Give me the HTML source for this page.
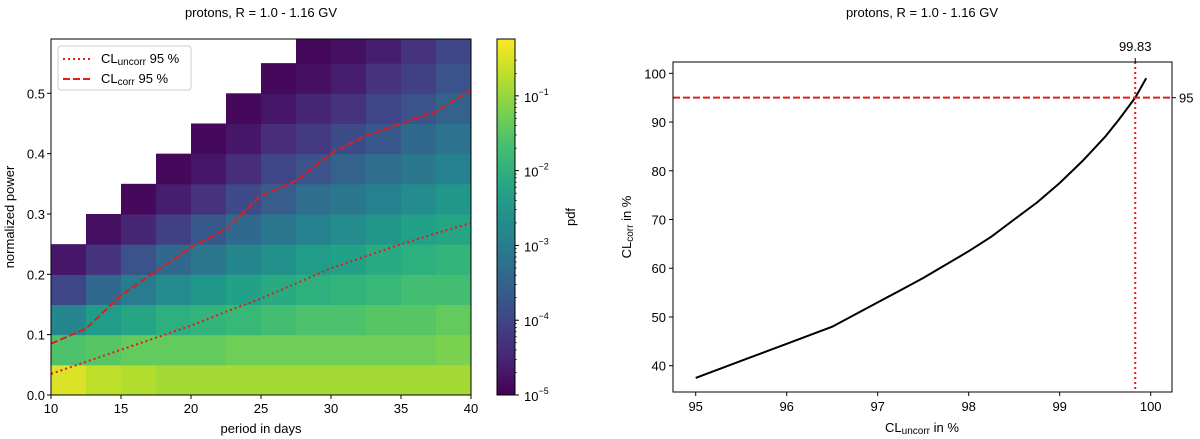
<!DOCTYPE html>
<html><head><meta charset="utf-8"><style>
body{margin:0;background:#fff;}
svg{display:block;font-family:"Liberation Sans","DejaVu Sans",sans-serif;}
</style></head><body>
<svg id="fig" width="1200" height="439" viewBox="0 0 1200 439" xmlns="http://www.w3.org/2000/svg">
<g id="left"></g>
<g id="right"></g>
</svg>
<script>
// ---- heatmap data (log10 pdf), columns every 2.5 days, rows every 0.05 power ----
const periodEdges = [10,12.5,15,17.5,20,22.5,25,27.5,30,32.5,35,37.5,40];
const powerEdges = [0,0.05,0.1,0.15,0.2,0.25,0.3,0.35,0.4,0.45,0.5,0.55,0.6];
const logPdf = [
 [-0.5,-1.6,-2.8,-4.0,-4.7,null,null,null,null,null,null,null],
 [-0.7,-1.5,-2.4,-3.4,-4.3,-4.8,null,null,null,null,null,null],
 [-0.8,-1.4,-2.2,-3.0,-3.8,-4.5,-4.9,null,null,null,null,null],
 [-0.9,-1.4,-2.0,-2.7,-3.4,-4.1,-4.6,-4.9,null,null,null,null],
 [-0.9,-1.4,-1.9,-2.5,-3.1,-3.7,-4.3,-4.7,-4.9,null,null,null],
 [-0.9,-1.3,-1.8,-2.3,-2.8,-3.4,-3.9,-4.4,-4.7,-4.9,null,null],
 [-0.9,-1.3,-1.7,-2.1,-2.6,-3.1,-3.6,-4.0,-4.4,-4.7,-4.9,null],
 [-0.9,-1.3,-1.6,-2.0,-2.4,-2.9,-3.3,-3.8,-4.2,-4.5,-4.8,-4.9],
 [-0.9,-1.3,-1.6,-1.9,-2.3,-2.7,-3.1,-3.5,-3.9,-4.3,-4.6,-4.8],
 [-0.9,-1.3,-1.5,-1.8,-2.1,-2.5,-2.9,-3.3,-3.7,-4.0,-4.3,-4.6],
 [-0.9,-1.3,-1.5,-1.7,-2.0,-2.3,-2.7,-3.1,-3.4,-3.8,-4.1,-4.3],
 [-0.9,-1.2,-1.4,-1.7,-1.9,-2.2,-2.5,-2.9,-3.2,-3.5,-3.8,-4.0]
];
const clPeriods = [10,12.5,15,17.5,20,22.5,25,27.5,30,32.5,35,37.5,40];
const clUncorr = [0.035,0.055,0.075,0.095,0.115,0.138,0.16,0.185,0.21,0.23,0.25,0.268,0.285];
const clCorr = [0.085,0.11,0.165,0.205,0.245,0.275,0.33,0.355,0.40,0.43,0.45,0.47,0.505];
const xTicksL = [10,15,20,25,30,35,40];
const yTicksL = [0.0,0.1,0.2,0.3,0.4,0.5];
const cbTicks = [-5,-4,-3,-2,-1];
// ---- right panel data ----
const clUnc = [95,95.5,96,96.5,97,97.25,97.5,98,98.25,98.5,98.75,99,99.25,99.5,99.65,99.83,99.95];
const clCor = [37.5,41,44.5,48,53,55.5,58,63.5,66.5,70,73.5,77.5,82,87,90.5,95,99];
const xTicksR = [95,96,97,98,99,100];
const yTicksR = [40,50,60,70,80,90,100];
const crossX = 99.83, crossY = 95;

const NS="http://www.w3.org/2000/svg";
function mk(tag,attrs,parent,text){const e=document.createElementNS(NS,tag);for(const k in attrs)e.setAttribute(k,attrs[k]);if(text!==undefined)e.textContent=text;parent.appendChild(e);return e;}
const VIR=[[68,1,84],[72,40,120],[62,74,137],[49,104,142],[38,130,142],[31,158,137],[53,183,121],[110,206,88],[181,222,43],[253,231,37]];
function viridis(t){t=Math.max(0,Math.min(1,t));const f=t*(VIR.length-1),i=Math.min(VIR.length-2,Math.floor(f)),u=f-i;const c=VIR[i].map((v,k)=>Math.round(v+(VIR[i+1][k]-v)*u));return `rgb(${c[0]},${c[1]},${c[2]})`;}
const LMIN=-5,LMAX=-0.24;
// left axes
const L={x0:51,x1:471,y0:395,y1:39,pMax:0.590};
const xL=v=>L.x0+(v-10)/30*(L.x1-L.x0);
const yL=v=>L.y0-v/L.pMax*(L.y0-L.y1);
const left=document.getElementById('left');
mk('text',{x:261,y:17,'text-anchor':'middle','font-size':13,},left,'protons, R = 1.0 - 1.16 GV');
mk('clipPath',{id:'clipL'},left).appendChild((()=>{const r=document.createElementNS(NS,'rect');r.setAttribute('x',L.x0);r.setAttribute('y',L.y1);r.setAttribute('width',L.x1-L.x0);r.setAttribute('height',L.y0-L.y1);return r;})());
const cells=mk('g',{'clip-path':'url(#clipL)'},left);


logPdf.forEach((col,i)=>col.forEach((v,j)=>{if(v===null)return;
 const r=mk('rect',{x:xL(periodEdges[i]),y:yL(powerEdges[j+1]),width:xL(periodEdges[i+1])-xL(periodEdges[i])+0.5,height:yL(powerEdges[j])-yL(powerEdges[j+1])+0.5,fill:viridis((v-LMIN)/(LMAX-LMIN))},cells);
 
 }));
const pts=(xs,ys,fx,fy)=>xs.map((x,i)=>fx(x).toFixed(1)+','+fy(ys[i]).toFixed(1)).join(' ');
const lu=mk('polyline',{points:pts(clPeriods,clUncorr,xL,yL),fill:'none',stroke:'#e41a1c','stroke-width':2,'stroke-dasharray':'2,3'},left);


const lc=mk('polyline',{points:pts(clPeriods,clCorr,xL,yL),fill:'none',stroke:'#e41a1c','stroke-width':2,'stroke-dasharray':'7,3'},left);


mk('rect',{x:L.x0,y:L.y1,width:L.x1-L.x0,height:L.y0-L.y1,fill:'none',stroke:'#000','stroke-width':1,},left);
xTicksL.forEach(t=>{const x=xL(t);mk('line',{x1:x,x2:x,y1:L.y0,y2:L.y0+4,stroke:'#000'},left);
 const tx=mk('text',{x:x,y:L.y0+18,'text-anchor':'middle','font-size':13},left,String(t));
 
 });
yTicksL.forEach(t=>{const y=yL(t);mk('line',{x1:L.x0-4,x2:L.x0,y1:y,y2:y,stroke:'#000'},left);
 const tx=mk('text',{x:L.x0-6,y:y+5,'text-anchor':'end','font-size':13},left,t.toFixed(1));
 
 });
mk('text',{x:261,y:433,'text-anchor':'middle','font-size':13,},left,'period in days');
mk('text',{x:0,y:0,transform:'translate(14,217) rotate(-90)','text-anchor':'middle','font-size':13,},left,'normalized power');
// legend
const lg=mk('g',{},left);
mk('rect',{x:58,y:46,width:133,height:44,rx:3,fill:'#fff','fill-opacity':0.85,stroke:'#ccc'},lg);
mk('line',{x1:63,x2:90,y1:59,y2:59,stroke:'#e41a1c','stroke-width':2,'stroke-dasharray':'2,3'},lg);
mk('line',{x1:63,x2:90,y1:79,y2:79,stroke:'#e41a1c','stroke-width':2,'stroke-dasharray':'7,3'},lg);
const t1=mk('text',{x:101,y:63,'font-size':13},lg);t1.innerHTML='CL<tspan font-size="10" dy="2">uncorr</tspan><tspan dy="-2"> 95 %</tspan>';
const t2=mk('text',{x:101,y:83,'font-size':13},lg);t2.innerHTML='CL<tspan font-size="10" dy="2">corr</tspan><tspan dy="-2"> 95 %</tspan>';
// colorbar
const cb={x:497,w:18,y0:395,y1:39};
const yCb=v=>cb.y0-(v-LMIN)/(LMAX-LMIN)*(cb.y0-cb.y1);
const defs=mk('defs',{},left);const gr=mk('linearGradient',{id:'vg',x1:0,y1:1,x2:0,y2:0},defs);
for(let k=0;k<=10;k++)mk('stop',{offset:k/10,'stop-color':viridis(k/10)},gr);
mk('rect',{x:cb.x,y:cb.y1,width:cb.w,height:cb.y0-cb.y1,fill:'url(#vg)',stroke:'#000',},left);
cbTicks.forEach(t=>{const y=yCb(t);mk('line',{x1:cb.x+cb.w,x2:cb.x+cb.w+4,y1:y,y2:y,stroke:'#000'},left);
 for(let m=2;m<10&&t<-1||m<4&&t===-1;m++){const ym=yCb(t+Math.log10(m));if(ym>cb.y1)mk('line',{x1:cb.x+cb.w,x2:cb.x+cb.w+2,y1:ym,y2:ym,stroke:'#000','stroke-width':0.6},left);}
 const tx=mk('text',{x:cb.x+cb.w+9,y:y+6,'font-size':13},left);tx.innerHTML='10<tspan font-size="9" dy="-7">'+('\u2212'+(-t))+'</tspan>';
 
 });
mk('text',{x:0,y:0,transform:'translate(575,217) rotate(-90)','text-anchor':'middle','font-size':13,},left,'pdf');

// right panel
const R={x0:673,x1:1172,y0:392,y1:62};
const xR=v=>695.7+(v-95)*91;
const yR=v=>365.7-(v-40)*4.873;
const right=document.getElementById('right');
mk('text',{x:922,y:17,'text-anchor':'middle','font-size':13,},right,'protons, R = 1.0 - 1.16 GV');
const cur=mk('polyline',{points:pts(clUnc,clCor,xR,yR),fill:'none',stroke:'#000','stroke-width':2},right);


mk('line',{x1:R.x0,x2:R.x1,y1:yR(crossY),y2:yR(crossY),stroke:'#e41a1c','stroke-width':2,'stroke-dasharray':'7,3',},right);
mk('line',{x1:xR(crossX),x2:xR(crossX),y1:R.y1,y2:R.y0,stroke:'#e41a1c','stroke-width':2,'stroke-dasharray':'2,3',},right);
mk('rect',{x:R.x0,y:R.y1,width:R.x1-R.x0,height:R.y0-R.y1,fill:'none',stroke:'#000',},right);
xTicksR.forEach(t=>{const x=xR(t);mk('line',{x1:x,x2:x,y1:R.y0,y2:R.y0+4,stroke:'#000'},right);
 const tx=mk('text',{x:x,y:R.y0+19,'text-anchor':'middle','font-size':13},right,String(t));
 
 });
yTicksR.forEach(t=>{const y=yR(t);mk('line',{x1:R.x0-4,x2:R.x0,y1:y,y2:y,stroke:'#000'},right);
 const tx=mk('text',{x:R.x0-7,y:y+5,'text-anchor':'end','font-size':13},right,String(t));
 
 });
mk('line',{x1:xR(crossX),x2:xR(crossX),y1:R.y1-4,y2:R.y1,stroke:'#000'},right);
mk('text',{x:xR(crossX),y:R.y1-11,'text-anchor':'middle','font-size':13,},right,String(crossX));
mk('line',{x1:R.x1,x2:R.x1+4,y1:yR(crossY),y2:yR(crossY),stroke:'#000'},right);
mk('text',{x:R.x1+7,y:yR(crossY)+5,'font-size':13,},right,String(crossY));
const xt=mk('text',{x:922,y:432,'text-anchor':'middle','font-size':13,},right);xt.innerHTML='CL<tspan font-size="10" dy="2">uncorr</tspan><tspan dy="-2"> in %</tspan>';
const yt=mk('text',{x:0,y:0,transform:'translate(631,227) rotate(-90)','text-anchor':'middle','font-size':13,},right);yt.innerHTML='CL<tspan font-size="10" dy="2">corr</tspan><tspan dy="-2"> in %</tspan>';
</script>
</body></html>
